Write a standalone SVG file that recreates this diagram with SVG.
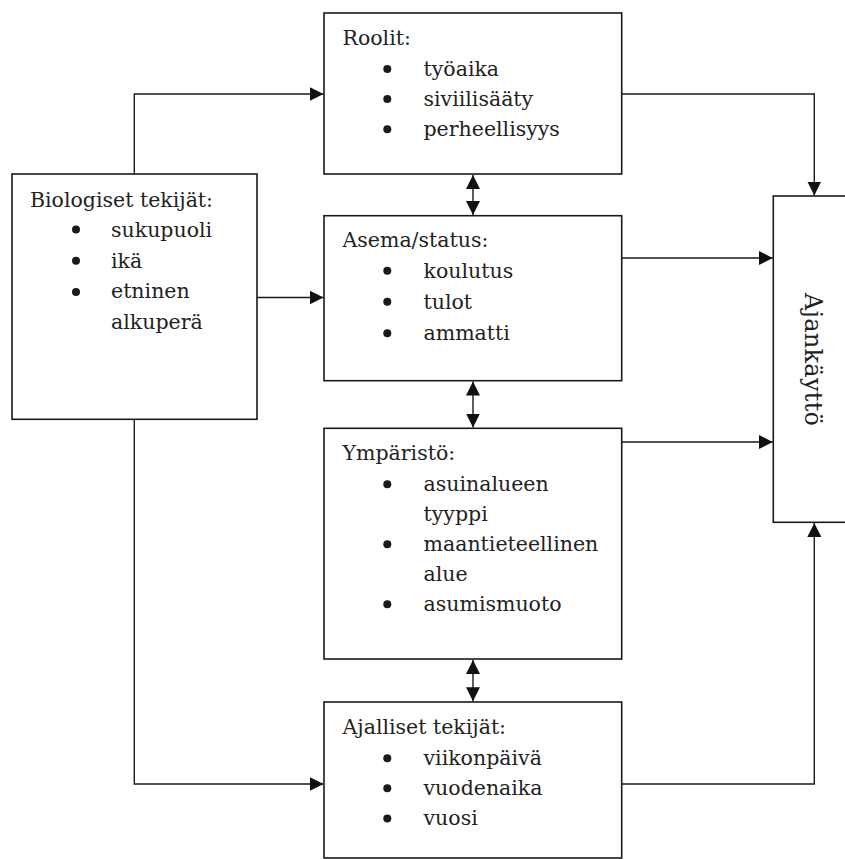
<svg xmlns="http://www.w3.org/2000/svg" width="845" height="859" viewBox="0 0 845 859">
<defs>
<style>
.box{fill:#fff;stroke:#1a1a1a;stroke-width:1.6}
.ln{fill:none;stroke:#1a1a1a;stroke-width:1.4}
text{font-family:"DejaVu Serif","Liberation Serif",serif;font-size:20.5px;fill:#222}
.big{font-size:24px}
.b{fill:#1a1a1a}
</style>
<marker id="ah" markerUnits="userSpaceOnUse" markerWidth="15" markerHeight="15" refX="14" refY="7" orient="auto">
<path d="M0,0 L14,7 L0,14 z" fill="#111"/>
</marker>
</defs>
<rect width="845" height="859" fill="#fff"/>
<g id="connectors">
<polyline class="ln" points="134.3,174 134.3,94 323.5,94" marker-end="url(#ah)"/>
<line class="ln" x1="257" y1="297.5" x2="323.5" y2="297.5" marker-end="url(#ah)"/>
<polyline class="ln" points="134.3,419.3 134.3,784 323.5,784" marker-end="url(#ah)"/>
<polyline class="ln" points="621.7,94 814.3,94 814.3,195.5" marker-end="url(#ah)"/>
<line class="ln" x1="621.7" y1="258" x2="772.8" y2="258" marker-end="url(#ah)"/>
<line class="ln" x1="621.7" y1="442" x2="772.8" y2="442" marker-end="url(#ah)"/>
<polyline class="ln" points="621.7,784 814.3,784 814.3,523" marker-end="url(#ah)"/>
<line class="ln" x1="473" y1="194" x2="473" y2="175" marker-end="url(#ah)"/>
<line class="ln" x1="473" y1="194" x2="473" y2="215" marker-end="url(#ah)"/>
<line class="ln" x1="473" y1="404" x2="473" y2="381.5" marker-end="url(#ah)"/>
<line class="ln" x1="473" y1="404" x2="473" y2="427.5" marker-end="url(#ah)"/>
<line class="ln" x1="473" y1="680" x2="473" y2="660" marker-end="url(#ah)"/>
<line class="ln" x1="473" y1="680" x2="473" y2="701.3" marker-end="url(#ah)"/>
</g>
<g id="roolit">
<rect class="box" x="324" y="13" width="297.7" height="161"/>
<text x="342.5" y="45">Roolit:</text>
<circle class="b" cx="387.3" cy="69" r="4"/><text x="423.5" y="76">työaika</text>
<circle class="b" cx="387.3" cy="99" r="4"/><text x="423.5" y="106">siviilisääty</text>
<circle class="b" cx="387.3" cy="129.3" r="4"/><text x="423.5" y="136">perheellisyys</text>
</g>
<g id="biologiset">
<rect class="box" x="12" y="174" width="245" height="245.3"/>
<text x="30" y="206.7">Biologiset tekijät:</text>
<circle class="b" cx="76" cy="229.5" r="4"/><text x="111" y="237.3">sukupuoli</text>
<circle class="b" cx="76" cy="260.7" r="4"/><text x="111" y="268.3">ikä</text>
<circle class="b" cx="76" cy="292" r="4"/><text x="111" y="298.3">etninen</text>
<text x="111" y="329">alkuperä</text>
</g>
<g id="asema">
<rect class="box" x="324" y="215.7" width="297.7" height="165"/>
<text x="342.5" y="246.7">Asema/status:</text>
<circle class="b" cx="387.3" cy="270.7" r="4"/><text x="423.5" y="277.7">koulutus</text>
<circle class="b" cx="387.3" cy="301.7" r="4"/><text x="423.5" y="308.7">tulot</text>
<circle class="b" cx="387.3" cy="333.3" r="4"/><text x="423.5" y="340">ammatti</text>
</g>
<g id="ymparisto">
<rect class="box" x="324" y="428.3" width="297.7" height="230.7"/>
<text x="342.5" y="460">Ympäristö:</text>
<circle class="b" cx="387.3" cy="484.3" r="4"/><text x="423.5" y="491">asuinalueen</text>
<text x="423.5" y="521">tyyppi</text>
<circle class="b" cx="387.3" cy="544.3" r="4"/><text x="423.5" y="551">maantieteellinen</text>
<text x="423.5" y="581">alue</text>
<circle class="b" cx="387.3" cy="604.3" r="4"/><text x="423.5" y="611">asumismuoto</text>
</g>
<g id="ajalliset">
<rect class="box" x="324" y="702" width="297.7" height="156"/>
<text x="342.5" y="734">Ajalliset tekijät:</text>
<circle class="b" cx="387.3" cy="758.3" r="4"/><text x="423.5" y="765">viikonpäivä</text>
<circle class="b" cx="387.3" cy="788.3" r="4"/><text x="423.5" y="795">vuodenaika</text>
<circle class="b" cx="387.3" cy="818.5" r="4"/><text x="423.5" y="825">vuosi</text>
</g>
<g id="ajankaytto">
<rect class="box" x="773.3" y="196" width="90" height="326.3"/>
<text class="big" transform="translate(805,293) rotate(90)" textLength="133" lengthAdjust="spacing">Ajankäyttö</text>
</g>
</svg>
